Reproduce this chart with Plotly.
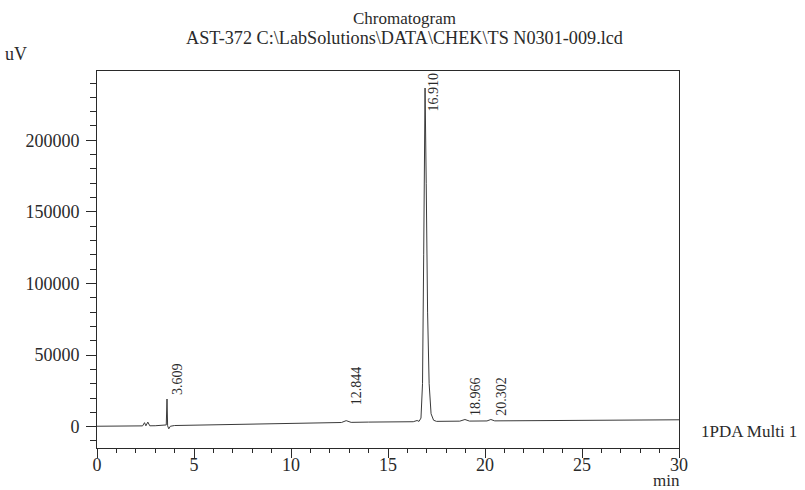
import plotly.graph_objects as go

# ---- data ----
time_min = [0.0, 1.0, 2.0, 2.35, 2.45, 2.52, 2.62, 2.72, 3.0, 3.5, 3.57, 3.609, 3.64, 3.7, 3.78,
            4.0, 5.0, 7.0, 10.0, 12.6, 12.844, 13.1, 14.0, 16.3, 16.5, 16.6, 16.7, 16.78, 16.84,
            16.91, 16.97, 17.04, 17.12, 17.22, 17.35, 17.5, 18.7, 18.966, 19.2, 20.1, 20.302,
            20.5, 25.0, 30.0]
signal_uv = [300, 400, 500, 550, 2800, 600, 3200, 600, 650, 700, 1200, 19300, 600, -1500, 300,
             800, 1000, 1500, 2300, 2900, 4200, 3000, 3200, 3450, 4300, 3700, 6000, 30000, 120000,
             236500, 170000, 80000, 30000, 9000, 4500, 3700, 3850, 5000, 3900, 4000, 5000,
             4050, 4400, 4800]

peak_times = [3.609, 12.844, 16.910, 18.966, 20.302]
peak_labels = ["3.609", "12.844", "16.910", "18.966", "20.302"]

x_ticks = [0, 5, 10, 15, 20, 25, 30]
y_ticks = [0, 50000, 100000, 150000, 200000]

title_line1 = "Chromatogram"
title_line2 = "AST-372 C:\\LabSolutions\\DATA\\CHEK\\TS N0301-009.lcd"
channel_name = "1PDA Multi 1"
x_unit = "min"
y_unit = "uV"

# ---- figure ----
X_RANGE = [0, 30]
Y_RANGE = [-14900, 248400]
FONT = "Liberation Serif, Times New Roman, serif"
INK = "#2a2a2a"

W, H = 805, 490
ML, MR, MT, MB = 97, 126, 71, 42
pw, ph = W - ML - MR, H - MT - MB
units_per_px = (Y_RANGE[1] - Y_RANGE[0]) / ph

# label styling (pixel offsets of the peak labels)
label_extra_shift = {"12.844": 11}


def px_to_paper(px, py):
    return (px - ML) / pw, (H - py - MB) / ph


fig = go.Figure()
fig.add_trace(go.Scatter(x=time_min, y=signal_uv, mode="lines",
                         line=dict(color="#3a3a3a", width=1), hoverinfo="skip",
                         showlegend=False))

pk_font = dict(family=FONT, size=14, color=INK)
for t, lab in zip(peak_times, peak_labels):
    idx = min(range(len(time_min)), key=lambda i: abs(time_min[i] - t))
    yv = signal_uv[idx]
    if yv > 0.9 * Y_RANGE[1]:
        # label pushed down against the top frame
        fig.add_annotation(x=t, y=Y_RANGE[1] - 21.5 * units_per_px, xref="x", yref="y",
                           text=lab, textangle=-90, showarrow=False, xanchor="center",
                           yanchor="middle", xshift=8, font=pk_font)
    else:
        fig.add_annotation(x=t, y=yv, xref="x", yref="y", text=lab,
                           textangle=-90, showarrow=False, xanchor="center",
                           yanchor="bottom", xshift=10,
                           yshift=2 + label_extra_shift.get(lab, 0), font=pk_font)

# title lines
for txt, py, sz in [(title_line1, 18, 17), (title_line2, 38, 18.2)]:
    px_, py_ = px_to_paper(404, py)
    fig.add_annotation(x=px_, y=py_, xref="paper", yref="paper", text=txt,
                       showarrow=False, xanchor="center", yanchor="middle",
                       font=dict(family=FONT, size=sz, color=INK))

# axis units
ux, uy = px_to_paper(16, 54)
fig.add_annotation(x=ux, y=uy, xref="paper", yref="paper", text=y_unit,
                   showarrow=False, xanchor="center", yanchor="middle",
                   font=dict(family=FONT, size=18, color=INK))
mx, my = px_to_paper(666, 480)
fig.add_annotation(x=mx, y=my, xref="paper", yref="paper", text=x_unit,
                   showarrow=False, xanchor="center", yanchor="middle",
                   font=dict(family=FONT, size=17, color=INK))

# channel label at end of trace, with dashed leader
fig.add_annotation(x=time_min[-1], y=signal_uv[-1], xref="x", yref="y",
                   text=channel_name, showarrow=False, xanchor="left",
                   yanchor="middle", xshift=20, yshift=-12,
                   font=dict(family=FONT, size=17, color=INK))
fig.add_shape(type="line", xref="x", yref="y", xsizemode="pixel", ysizemode="pixel",
              xanchor=time_min[-1], yanchor=signal_uv[-1], x0=0, x1=20, y0=0, y1=-12,
              line=dict(color="#777", width=1, dash="dot"))

fig.update_layout(
    width=W, height=H,
    margin=dict(l=ML, r=MR, t=MT, b=MB, pad=0, autoexpand=False),
    paper_bgcolor="white", plot_bgcolor="white",
    showlegend=False,
    xaxis=dict(range=X_RANGE, tickvals=x_ticks, ticktext=[str(v) for v in x_ticks],
               automargin=False, showgrid=False, zeroline=False,
               showline=True, mirror=True, linecolor=INK, linewidth=1,
               ticks="outside", ticklen=9, tickcolor=INK, tickwidth=1,
               ticklabelstandoff=-9,
               minor=dict(dtick=1, ticks="outside", ticklen=4, tickcolor=INK),
               tickfont=dict(family=FONT, size=18, color=INK)),
    yaxis=dict(range=Y_RANGE, tickvals=y_ticks, ticktext=[str(v) for v in y_ticks],
               automargin=False, showgrid=False, zeroline=False,
               showline=True, mirror=True, linecolor=INK, linewidth=1,
               ticks="outside", ticklen=10, tickcolor=INK, tickwidth=1,
               ticklabelstandoff=3,
               minor=dict(dtick=10000, ticks="outside", ticklen=6, tickcolor=INK),
               tickfont=dict(family=FONT, size=18, color=INK)),
)

fig.write_html("out.html", config={"displayModeBar": False},
               post_script="document.body.style.margin='0';")
